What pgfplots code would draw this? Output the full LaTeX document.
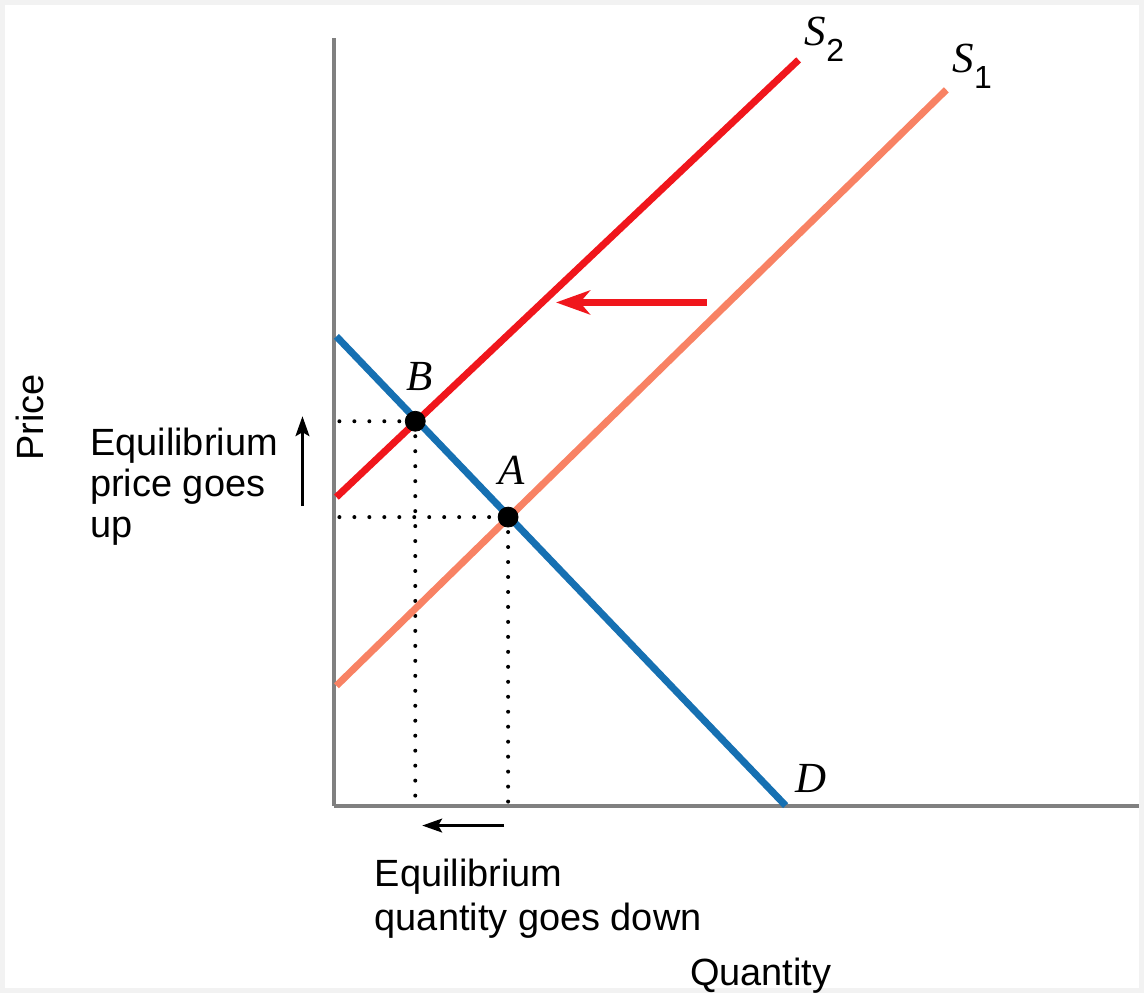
\documentclass[border=0pt]{standalone}
\usepackage{pgfplots}
\pgfplotsset{compat=1.18}
\usetikzlibrary{arrows.meta}
\usepackage{fontspec}
\setmainfont{Liberation Sans}
\newfontfamily\timesf{Liberation Serif}
\definecolor{sred}{RGB}{240,22,28}
\definecolor{salmon}{RGB}{248,130,100}
\definecolor{dblue}{RGB}{22,112,178}
\definecolor{axgray}{RGB}{128,128,128}
\newcommand{\lbl}{\fontsize{19}{22}\selectfont}
\newcommand{\ital}[1]{{\fontsize{21.5}{24}\selectfont\timesf\itshape #1}}
\begin{document}
\begin{tikzpicture}
\begin{axis}[
  scale only axis, width=405.5pt, height=384.5pt,
  xmin=0, xmax=811, ymin=0, ymax=769,
  axis lines*=left,
  axis line style={-, line width=2pt, color=axgray},
  xtick=\empty, ytick=\empty,
  clip=false,
]
% bounding box and faint frame
\path (axis cs:-335,-188) rectangle (axis cs:811,807);
\draw[gray!10, line width=2.5pt] (axis cs:-332.5,-185.5) rectangle (axis cs:808.5,804.5);

% dotted guide lines
\addplot[black, line width=2pt, line cap=round, dash pattern=on 0pt off 7.5pt] coordinates {(5,385) (81,385)};
\addplot[black, line width=2pt, line cap=round, dash pattern=on 0pt off 7.5pt] coordinates {(81,385) (81,3)};
\addplot[black, line width=2pt, line cap=round, dash pattern=on 0pt off 7.5pt] coordinates {(5,289) (174,289)};
\addplot[black, line width=2pt, line cap=round, dash pattern=on 0pt off 7.5pt] coordinates {(174,289) (174,3)};

% curves
\addplot[salmon, line width=3.5pt] coordinates {(2,120) (613,717)};
\addplot[sred, line width=3.5pt] coordinates {(2,309) (465,747)};
\addplot[dblue, line width=3.5pt] coordinates {(2,470) (452,0)};

% equilibrium points
\addplot[only marks, mark=*, mark size=5pt, black] coordinates {(81,385) (174,289)};

% shift arrow
\addplot[sred, line width=3.5pt, -{Stealth[length=17pt,width=12pt,inset=5pt]}] coordinates {(373,504) (222,504)};

% small arrows
\addplot[black, line width=1.1pt, -{Stealth[length=10pt,width=7pt,inset=2pt]}] coordinates {(-32,300) (-32,390)};
\addplot[black, line width=1.1pt, -{Stealth[length=10pt,width=7pt,inset=2pt]}] coordinates {(170,-20) (88,-20)};

% labels
\node at (axis cs:85,430) {\ital{B}};
\node at (axis cs:178,336) {\ital{A}};
\node at (axis cs:477,27) {\ital{D}};
\node[anchor=base west, inner sep=0pt] at (axis cs:471,761) {\ital{S}\raisebox{-8pt}{\fontsize{16}{16}\selectfont 2}};
\node[anchor=base west, inner sep=0pt] at (axis cs:619,734) {\ital{S}\raisebox{-8pt}{\fontsize{16}{16}\selectfont 1}};

\node[rotate=90, inner sep=0pt] at (axis cs:-305,389) {\lbl Price};
\node[anchor=base, inner sep=0pt, overlay] at (axis cs:427,-180) {\lbl Quantity};

\node[anchor=base west, inner sep=0pt] at (axis cs:-245,351) {\lbl Equilibrium};
\node[anchor=base west, inner sep=0pt] at (axis cs:-245,310) {\lbl price goes};
\node[anchor=base west, inner sep=0pt] at (axis cs:-245,269) {\lbl up};

\node[anchor=base west, inner sep=0pt] at (axis cs:40,-81) {\lbl Equilibrium};
\node[anchor=base west, inner sep=0pt] at (axis cs:40,-125) {\lbl quantity goes down};
\end{axis}
\end{tikzpicture}
\end{document}
